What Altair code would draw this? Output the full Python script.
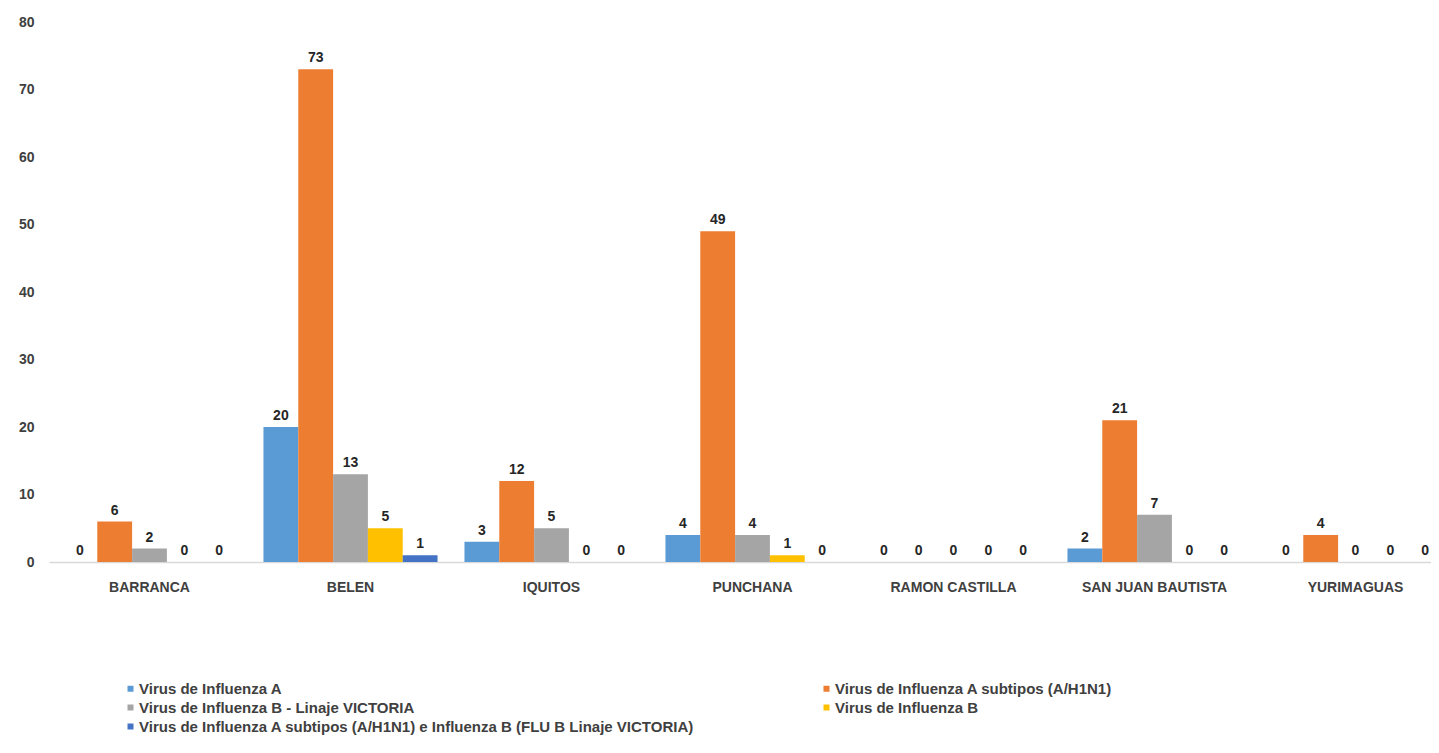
import altair as alt
import pandas as pd

regions = ["BARRANCA", "BELEN", "IQUITOS", "PUNCHANA", "RAMON CASTILLA",
           "SAN JUAN BAUTISTA", "YURIMAGUAS"]
series = [
    "Virus de Influenza A",
    "Virus de Influenza A  subtipos (A/H1N1)",
    "Virus de Influenza B -  Linaje VICTORIA",
    "Virus de Influenza B",
    "Virus de Influenza A subtipos (A/H1N1) e Influenza B (FLU B Linaje VICTORIA)",
]
colors = ["#5B9BD5", "#ED7D31", "#A5A5A5", "#FFC000", "#4472C4"]

flu_a = [0, 20, 3, 4, 0, 2, 0]
flu_a_h1n1 = [6, 73, 12, 49, 0, 21, 4]
flu_b_victoria = [2, 13, 5, 4, 0, 7, 0]
flu_b = [0, 5, 0, 1, 0, 0, 0]
flu_ab = [0, 1, 0, 0, 0, 0, 0]

values = [flu_a, flu_a_h1n1, flu_b_victoria, flu_b, flu_ab]
rows = []
for s, vals in zip(series, values):
    for r, v in zip(regions, vals):
        rows.append({"region": r, "series": s, "value": v})
df = pd.DataFrame(rows)

FONT = "Liberation Sans"
TXT = "#404040"

x = alt.X("region:N", sort=regions, title=None,
          scale=alt.Scale(paddingInner=0.134, paddingOuter=0.067, range=[0, 1407]),
          axis=alt.Axis(labelAngle=0, ticks=False, domainColor="#D9D9D9",
                        domainWidth=1.5, labelPadding=18, labelFontSize=14,
                        labelFontWeight="bold", labelColor=TXT,
                        labelFont=FONT, grid=False))
xo = alt.XOffset("series:N", sort=series)

base = alt.Chart(df)

bars = base.mark_bar().encode(
    x=x, xOffset=xo,
    y=alt.Y("value:Q", title=None,
            scale=alt.Scale(domain=[0, 80]),
            axis=alt.Axis(values=list(range(0, 81, 10)), domain=False, ticks=False,
                          grid=False, labelPadding=15, labelFontSize=14,
                          labelFontWeight="bold", labelColor=TXT,
                          labelFont=FONT)),
    color=alt.Color("series:N", sort=series,
                    scale=alt.Scale(domain=series, range=colors),
                    legend=alt.Legend(title=None, orient="none", legendX=74,
                                      legendY=659, columns=2, direction="horizontal",
                                      columnPadding=124, rowPadding=3,
                                      symbolType="square", symbolSize=36,
                                      symbolStrokeWidth=0, labelOffset=1,
                                      labelFontSize=15, labelFontWeight="bold",
                                      labelColor=TXT, labelFont=FONT,
                                      labelLimit=900, padding=0)),
)

labels = base.mark_text(dy=-11, fontSize=14, fontWeight="bold", color="#262626",
                        font=FONT).encode(
    x=x, xOffset=xo, y="value:Q", text="value:Q",
)

chart = alt.layer(bars, labels).properties(
    width=1374, height=540,
    autosize=alt.AutoSizeParams(type="none"),
    padding={"top": 14, "left": 41, "right": 8, "bottom": 180},
).configure_view(stroke=None)

chart.save("out.html", embed_options={"renderer": "svg", "actions": False})
